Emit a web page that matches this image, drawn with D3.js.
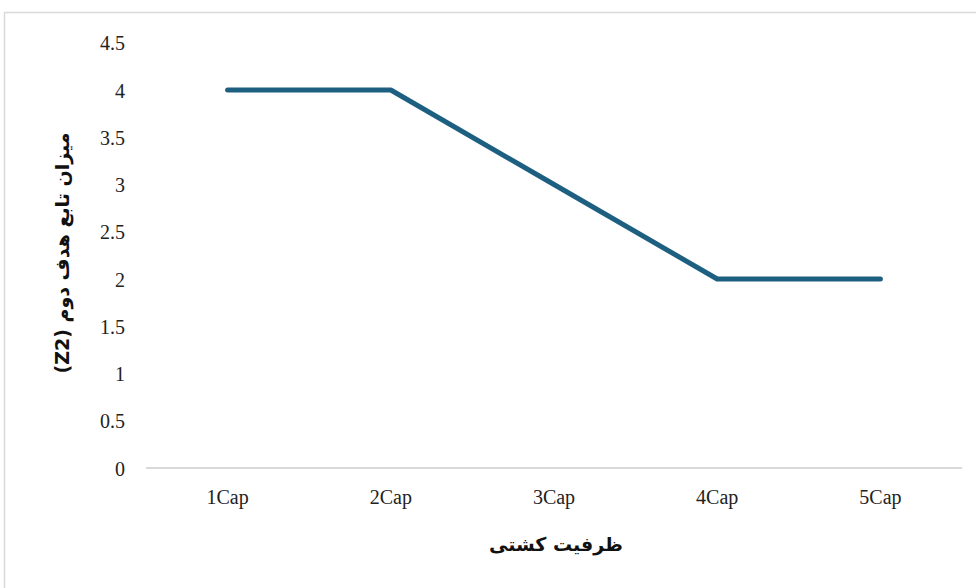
<!DOCTYPE html>
<html>
<head>
<meta charset="utf-8">
<script src="https://cdn.jsdelivr.net/npm/d3@7"></script>
<style>
  body { margin: 0; background: #fff; }
  svg { display: block; }
  .tick text { font-family: "Liberation Serif", "Times New Roman", serif; font-size: 20px; fill: #222; }
  .fa { font-family: "DejaVu Sans", "Noto Sans", sans-serif; font-weight: bold; font-size: 19px; fill: #111; }
</style>
</head>
<body>
<svg id="chart" width="976" height="588"></svg>
<script>
// chart values
var categories = ["1Cap", "2Cap", "3Cap", "4Cap", "5Cap"];
var z2Values = [4, 4, 3, 2, 2];
var yTicks = [0, 0.5, 1, 1.5, 2, 2.5, 3, 3.5, 4, 4.5];
var yTitle = "میزان تابع هدف دوم (Z2)";
var xTitle = "ظرفیت کشتی";

var svg = d3.select("#chart"),
    width = +svg.attr("width"),
    height = +svg.attr("height");

// outer frame, runs off the right and bottom edges
svg.append("rect")
    .attr("x", 4.5).attr("y", 12.5)
    .attr("width", 990).attr("height", 600)
    .attr("fill", "none")
    .attr("stroke", "#d9d9d9")
    .attr("stroke-width", 1.5);

var x = d3.scaleBand()
    .domain(categories)
    .range([146, 962]);

var y = d3.scaleLinear()
    .domain([0, 4.5])
    .range([468, 42.75]);

// y axis: labels only
var yAxis = svg.append("g")
    .attr("transform", "translate(125,0)")
    .call(d3.axisLeft(y).tickValues(yTicks).tickSize(0).tickPadding(0)
      .tickFormat(function(d) { return d; }));
yAxis.select(".domain").remove();
yAxis.selectAll("text").attr("dy", "0.35em");

// x baseline
svg.append("line")
    .attr("x1", x.range()[0]).attr("x2", x.range()[1])
    .attr("y1", y(0)).attr("y2", y(0))
    .attr("stroke", "#d9d9d9")
    .attr("stroke-width", 2);

var xAxis = svg.append("g")
    .attr("transform", "translate(0," + y(0) + ")")
    .call(d3.axisBottom(x).tickSize(0).tickPadding(22));
xAxis.select(".domain").remove();

var line = d3.line()
    .x(function(d, i) { return x(categories[i]) + x.bandwidth() / 2; })
    .y(function(d) { return y(d); });

svg.append("path")
    .datum(z2Values)
    .attr("d", line)
    .attr("fill", "none")
    .attr("stroke", "#1c5f80")
    .attr("stroke-width", 5)
    .attr("stroke-linecap", "round")
    .attr("stroke-linejoin", "round");

// axis titles
svg.append("text")
    .attr("class", "fa")
    .attr("direction", "rtl")
    .attr("text-anchor", "middle")
    .attr("transform", "translate(69,253) rotate(-90)")
    .text(yTitle);

svg.append("text")
    .attr("class", "fa")
    .attr("direction", "rtl")
    .attr("text-anchor", "middle")
    .attr("x", 556).attr("y", 551)
    .text(xTitle);
</script>
</body>
</html>
